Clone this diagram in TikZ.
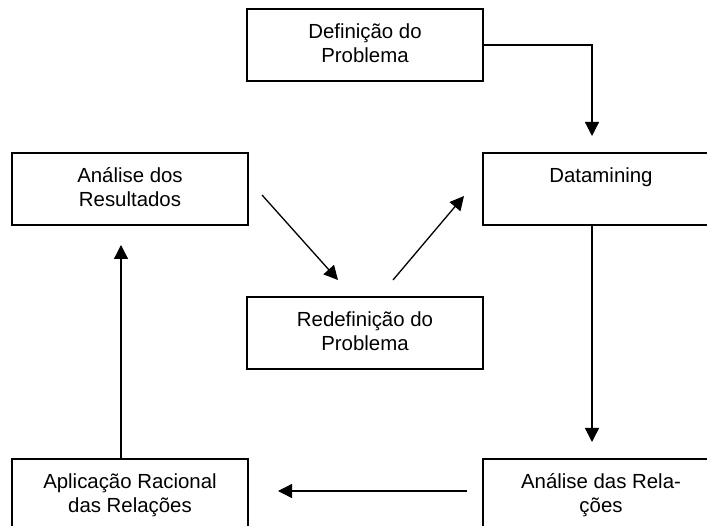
\documentclass[tikz,border=0pt]{standalone}
\usepackage{fontspec}
\setmainfont{Liberation Sans}
\usetikzlibrary{arrows.meta}
\tikzset{
  box/.style={draw, line width=1.5pt, minimum width=236pt, minimum height=72pt, inner sep=0pt, outer sep=0pt},
  lbl/.style={anchor=base, inner sep=0pt, font=\fontsize{20.4}{24}\selectfont},
  arr/.style={line width=1.3pt, -{Triangle[length=14pt,width=14pt]}}
}
\newcommand{\twoline}[1]{\parbox[t]{232pt}{\centering #1}}
\begin{document}
\begin{tikzpicture}[x=1pt,y=-1pt]
\useasboundingbox (0,0) rectangle (707,526);
% boxes
\node[box] (def) at (365,45) {};
\node[box] (anres) at (130,189) {};
\node[box] (data) at (601,189) {};
\node[box] (redef) at (365,333) {};
\node[box] (aplic) at (130,495) {};
\node[box] (anrel) at (601,495) {};
% texts
\node[lbl] (defT) at (365,39) {\twoline{Definição do\\Problema}};
\node[lbl] (anresT) at (130,183) {\twoline{Análise dos\\Resultados}};
\node[lbl] (dataT) at (601,183) {\twoline{Datamining}};
\node[lbl] (redefT) at (365,327) {\twoline{Redefinição do\\Problema}};
\node[lbl] (aplicT) at (130,489) {\twoline{Aplicação Racional\\das Relações}};
\node[lbl] (anrelT) at (601,489) {\twoline{Análise das Rela-\\ções}};
% connectors
\draw[arr] (def.east) -| ([xshift=-9pt,yshift=17pt]data.north);
\draw[arr] ([xshift=-9pt]data.south) -- ([xshift=-9pt,yshift=17pt]anrel.north);
\draw[arr] ([xshift=-16pt,yshift=4pt]anrel.west) -- ([xshift=30pt,yshift=4pt]aplic.east);
\draw[arr] ([xshift=-9pt]aplic.north) -- ([xshift=-9pt,yshift=-20pt]anres.south);
\draw[arr] ([xshift=14pt,yshift=-6pt]anres.east) -- ([xshift=-27pt,yshift=17pt]redef.north);
\draw[arr] ([xshift=28pt,yshift=17pt]redef.north) -- ([xshift=-19pt,yshift=-7pt]data.west);
\end{tikzpicture}
\end{document}
